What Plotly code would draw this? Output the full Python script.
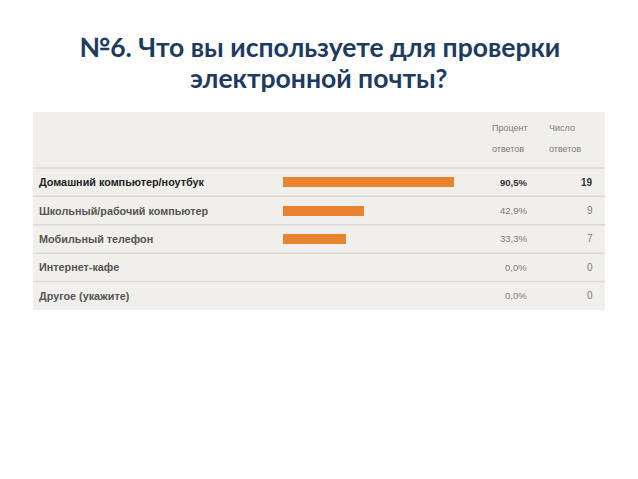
import plotly.graph_objects as go

categories = ["Домашний компьютер/ноутбук", "Школьный/рабочий компьютер",
              "Мобильный телефон", "Интернет-кафе", "Другое (укажите)"]
percents = [90.5, 42.9, 33.3, 0.0, 0.0]
counts = [19, 9, 7, 0, 0]
pct_labels = ["90,5%", "42,9%", "33,3%", "0,0%", "0,0%"]
header_pct = ["Процент", "ответов"]
header_cnt = ["Число", "ответов"]
title_lines = ["№6. Что вы используете для проверки", "электронной почты?"]

W, H = 638, 479

fig = go.Figure()
fig.add_trace(go.Bar(
    x=percents, y=categories, orientation="h", width=0.35,
    marker=dict(color="#E8832F", line=dict(width=0)),
    hoverinfo="skip", showlegend=False,
))

ann = []
tfont = dict(family="Lato", size=26.5, color="#1F3A5F", weight="bold")
ann.append(dict(text=title_lines[0], x=0.5, y=1 - 47 / H, xref="paper", yref="paper",
                showarrow=False, xanchor="center", yanchor="middle", font=tfont))
ann.append(dict(text=title_lines[1], x=0.5, y=1 - 78 / H, xref="paper", yref="paper",
                showarrow=False, xanchor="center", yanchor="middle", font=tfont))

hfont = dict(family="Liberation Sans", size=9, color="#7A7A7A")
for lines, x0 in [(header_pct, 490), (header_cnt, 547)]:
    ann.append(dict(text=lines[0], x=x0 / W, y=1 - 128 / H, xref="paper", yref="paper",
                    showarrow=False, xanchor="left", yanchor="middle", font=hfont))
    ann.append(dict(text=lines[1], x=x0 / W, y=1 - 149 / H, xref="paper", yref="paper",
                    showarrow=False, xanchor="left", yanchor="middle", font=hfont))

for i, (c, p, n) in enumerate(zip(categories, pct_labels, counts)):
    first = i == 0
    ann.append(dict(text=c, x=37 / W, y=c, xref="paper", yref="y", showarrow=False,
                    xanchor="left", yanchor="middle",
                    font=dict(family="Liberation Sans", size=10.8,
                              color="#222222" if first else "#555555", weight="bold")))
    ann.append(dict(text=p, x=529 / W, y=c, xref="paper", yref="y", showarrow=False,
                    xanchor="right", yanchor="middle",
                    font=dict(family="Liberation Sans", size=9.5,
                              color="#333333" if first else "#7A7A7A",
                              weight="bold" if first else "normal")))
    ann.append(dict(text=str(n), x=595 / W, y=c, xref="paper", yref="y", showarrow=False,
                    xanchor="right", yanchor="middle",
                    font=dict(family="Liberation Sans", size=10,
                              color="#333333" if first else "#7A7A7A",
                              weight="bold" if first else "normal")))

shapes = []
for i in range(len(categories)):
    shapes.append(dict(type="line", xref="paper", yref="y", x0=33 / W, x1=605 / W,
                       y0=i - 0.5, y1=i - 0.5, line=dict(color="#DCDAD6", width=1.5),
                       layer="below"))

fig.update_layout(
    width=W, height=H, margin=dict(l=0, r=0, t=0, b=0),
    paper_bgcolor="white", plot_bgcolor="#F1EFEC",
    xaxis=dict(domain=[33 / W, 605 / W], range=[-132.3, 170.4], visible=False,
               fixedrange=True),
    yaxis=dict(domain=[1 - 310 / H, 1 - 112 / H], range=[4.5, -2.47], visible=False,
               type="category", categoryorder="array", categoryarray=categories,
               fixedrange=True),
    annotations=ann, shapes=shapes, bargap=0,
)

fig.write_html("out.html")
